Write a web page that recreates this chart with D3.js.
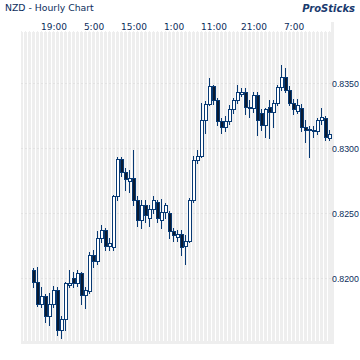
<!DOCTYPE html>
<html><head><meta charset="utf-8">
<script src="https://cdn.jsdelivr.net/npm/d3@7"></script>
<style>
html,body{margin:0;padding:0;background:#fff;}
svg{display:block;}
</style></head>
<body>
<script>
const titleText = "NZD - Hourly Chart";
const brandText = "ProSticks";
const openP  = [0.8206,0.8197,0.8180,0.8186,0.8171,0.8180,0.8191,0.8160,0.8169,0.8195,0.8200,0.8196,0.8204,0.8187,0.8190,0.8218,0.8213,0.8231,0.8237,0.8225,0.8224,0.8263,0.8292,0.8282,0.8275,0.8277,0.8260,0.8245,0.8256,0.8246,0.8253,0.8259,0.8245,0.8251,0.8250,0.8236,0.8232,0.8234,0.8225,0.8229,0.8260,0.8291,0.8294,0.8322,0.8334,0.8348,0.8337,0.8321,0.8316,0.8321,0.8330,0.8337,0.8342,0.8343,0.8332,0.8331,0.8341,0.8327,0.8318,0.8332,0.8328,0.8335,0.8347,0.8355,0.8345,0.8335,0.8329,0.8331,0.8316,0.8314,0.8314,0.8313,0.8322,0.8323,0.8308];
const highP  = [0.8208,0.8209,0.8193,0.8188,0.8189,0.8194,0.8193,0.8171,0.8197,0.8206,0.8205,0.8206,0.8205,0.8193,0.8220,0.8222,0.8236,0.8241,0.8239,0.8231,0.8264,0.8293,0.8293,0.8285,0.8283,0.8299,0.8263,0.8260,0.8260,0.8256,0.8263,0.8260,0.8261,0.8258,0.8252,0.8239,0.8237,0.8237,0.8233,0.8262,0.8294,0.8299,0.8335,0.8336,0.8354,0.8349,0.8339,0.8323,0.8325,0.8333,0.8339,0.8349,0.8346,0.8346,0.8337,0.8343,0.8343,0.8330,0.8331,0.8337,0.8337,0.8349,0.8364,0.8362,0.8348,0.8338,0.8338,0.8334,0.8322,0.8317,0.8317,0.8323,0.8331,0.8325,0.8314];
const lowP   = [0.8193,0.8179,0.8178,0.8166,0.8164,0.8178,0.8156,0.8154,0.8160,0.8193,0.8193,0.8194,0.8180,0.8177,0.8189,0.8209,0.8211,0.8228,0.8222,0.8222,0.8222,0.8260,0.8279,0.8268,0.8266,0.8256,0.8240,0.8239,0.8243,0.8240,0.8250,0.8243,0.8239,0.8246,0.8231,0.8229,0.8229,0.8218,0.8211,0.8228,0.8259,0.8289,0.8293,0.8312,0.8333,0.8334,0.8318,0.8312,0.8313,0.8319,0.8327,0.8335,0.8340,0.8326,0.8324,0.8328,0.8310,0.8314,0.8309,0.8308,0.8316,0.8333,0.8345,0.8343,0.8333,0.8326,0.8327,0.8313,0.8305,0.8293,0.8309,0.8311,0.8319,0.8306,0.8306];
const closeP = [0.8197,0.8180,0.8186,0.8171,0.8180,0.8191,0.8160,0.8169,0.8196,0.8196,0.8196,0.8204,0.8187,0.8191,0.8218,0.8213,0.8231,0.8237,0.8225,0.8227,0.8263,0.8292,0.8282,0.8276,0.8277,0.8260,0.8245,0.8256,0.8249,0.8253,0.8260,0.8246,0.8251,0.8256,0.8236,0.8233,0.8234,0.8224,0.8229,0.8260,0.8291,0.8294,0.8322,0.8334,0.8348,0.8337,0.8321,0.8316,0.8321,0.8330,0.8337,0.8343,0.8343,0.8332,0.8331,0.8341,0.8322,0.8318,0.8330,0.8328,0.8335,0.8347,0.8355,0.8345,0.8335,0.8330,0.8333,0.8316,0.8314,0.8315,0.8313,0.8322,0.8324,0.8309,0.8311];
const timeTickLabels = ["19:00","5:00","15:00","1:00","11:00","21:00","7:00"];
const timeTickIndex  = [5,15,25,35,45,55,65];
const priceTicks = [0.8200,0.8250,0.8300,0.8350];

const W = 360, H = 360;
const navy = "#0b2d5c";
const candleLine = "#083a74";
const candleFill = "#0a1a30";
const stripe = "#eeeeee";

const n = openP.length;
const data = d3.range(n).map(i => ({i, o:openP[i], h:highP[i], l:lowP[i], c:closeP[i]}));

const x = d3.scaleLinear().domain([0, n-1]).range([33.5, 33.5 + 4*(n-1)]);
const y = d3.scaleLinear().domain([0.815, 0.839]).range([343.3, 31.3]);

const plotL = 21, plotR = 334, plotT = 31, plotB = 344;

const svg = d3.select("body").append("svg").attr("width", W).attr("height", H);

// stripes
const g0 = svg.append("g");
const stripeIdx = d3.range(-3, n);
g0.selectAll("rect.s").data(stripeIdx).enter().append("rect")
  .attr("x", d => Math.max(plotL, x(d) - 1.5))
  .attr("width", d => (x(d) + 1.5) - Math.max(plotL, x(d) - 1.5))
  .attr("y", plotT + 1).attr("height", plotB - plotT - 1)
  .attr("fill", stripe);
g0.selectAll("rect.t").data(stripeIdx).enter().append("rect")
  .attr("x", d => x(d) - 0.5).attr("width", 1)
  .attr("y", plotT).attr("height", 1).attr("fill", stripe);
// right bar and bottom band
g0.append("rect").attr("x", x(n-1) + 1.5).attr("width", plotR - (x(n-1) + 1.5))
  .attr("y", 22).attr("height", plotB - 22).attr("fill", stripe);
g0.append("rect").attr("x", plotL).attr("width", plotR - plotL)
  .attr("y", 341).attr("height", plotB - 341).attr("fill", stripe);

// faint grid lines
svg.append("g").selectAll("line").data(priceTicks).enter().append("line")
  .attr("x1", plotL).attr("x2", plotR)
  .attr("y1", d => Math.round(y(d)) + 0.5).attr("y2", d => Math.round(y(d)) + 0.5)
  .attr("stroke", "#e2e2e2").attr("stroke-dasharray", "2,2");

// candles
const gc = svg.append("g");
gc.selectAll("line.w").data(data).enter().append("line")
  .attr("x1", d => x(d.i)).attr("x2", d => x(d.i))
  .attr("y1", d => Math.round(y(d.h))).attr("y2", d => Math.round(y(d.l)) + 1)
  .attr("stroke", candleLine).attr("stroke-width", 1);
gc.selectAll("rect.b").data(data).enter().append("rect")
  .attr("x", d => x(d.i) - 1)
  .attr("width", 3)
  .attr("y", d => Math.round(y(Math.max(d.o, d.c))) + 0.5)
  .attr("height", d => Math.max(1, Math.round(y(Math.min(d.o, d.c))) - Math.round(y(Math.max(d.o, d.c)))))
  .attr("fill", d => d.c >= d.o ? "#ffffff" : candleFill)
  .attr("stroke", candleLine).attr("stroke-width", 1);

// title
svg.append("text").attr("x", 5).attr("y", 11).text(titleText)
  .attr("font-family", "DejaVu Sans, sans-serif").attr("font-size", 9.3)
  .attr("fill", navy);
svg.append("text").attr("x", 355).attr("y", 11.5).attr("text-anchor", "end").text(brandText)
  .attr("font-family", "DejaVu Sans, sans-serif").attr("font-size", 10)
  .attr("font-weight", "bold").attr("font-style", "italic")
  .attr("fill", "#1a3a6e");

// top axis
const ax = svg.append("g").attr("transform", "translate(0,29.5)")
  .call(d3.axisTop(x).tickValues(timeTickIndex)
    .tickFormat((d, k) => timeTickLabels[k]).tickSize(0).tickPadding(0));
ax.select(".domain").remove();
ax.selectAll("text").attr("font-family", "DejaVu Sans, sans-serif")
  .attr("font-size", 9).attr("fill", navy).attr("dy", 0);

// right axis
const ay = svg.append("g").attr("transform", "translate(332,0)")
  .call(d3.axisRight(y).tickValues(priceTicks).tickFormat(d3.format(".4f")).tickSize(0).tickPadding(0));
ay.select(".domain").remove();
ay.selectAll("text").attr("font-family", "Liberation Sans, Arial, sans-serif")
  .attr("font-size", 8.8).attr("fill", navy);
</script>
</body></html>
